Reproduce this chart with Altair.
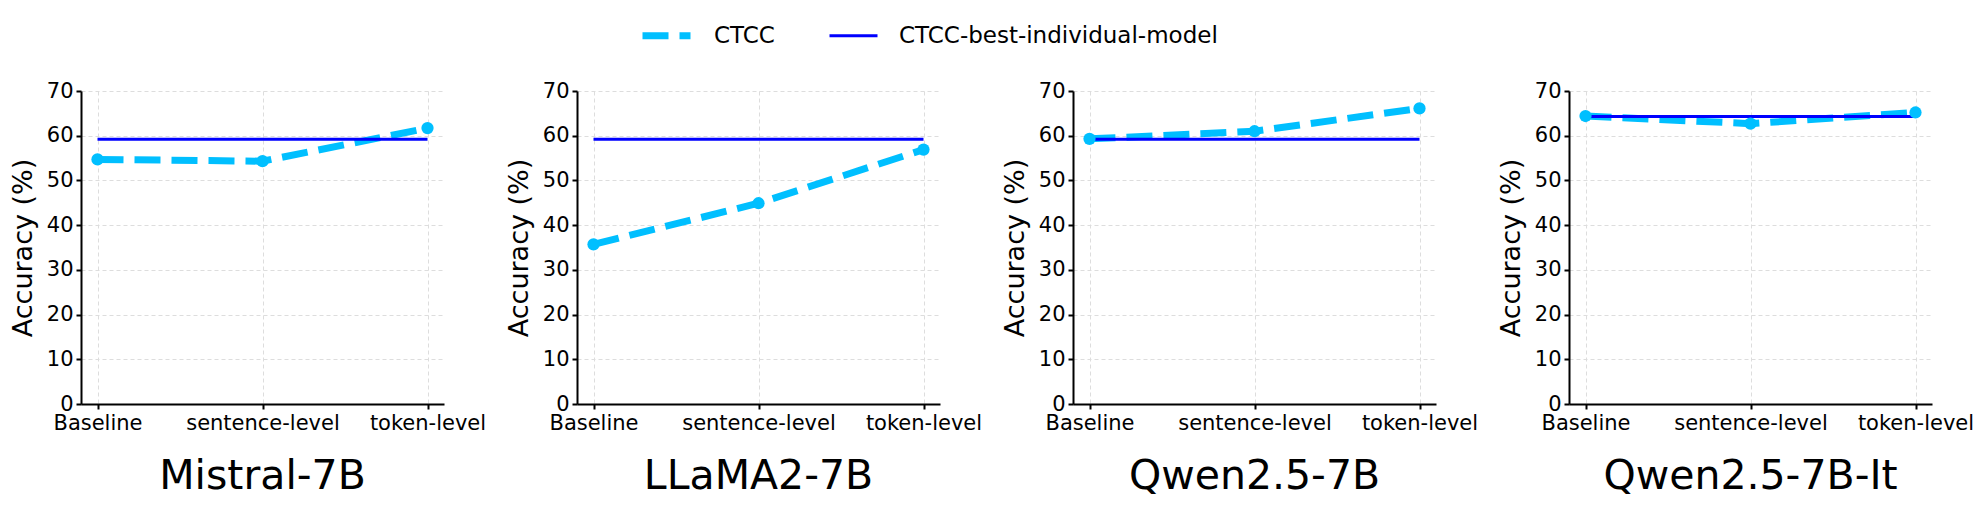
import altair as alt
import pandas as pd

categories = ["Baseline", "sentence-level", "token-level"]
models = ["Mistral-7B", "LLaMA2-7B", "Qwen2.5-7B", "Qwen2.5-7B-It"]

ctcc_mistral = [54.7, 54.3, 61.7]
ctcc_llama = [35.7, 44.9, 56.9]
ctcc_qwen = [59.3, 61.0, 66.1]
ctcc_qwen_it = [64.4, 62.7, 65.2]
best_individual = [59.2, 59.2, 59.2, 64.3]

series_names = ["CTCC", "CTCC-best-individual-model"]
series_colors = ["#00BFFF", "#0000FF"]

ctcc_all = [ctcc_mistral, ctcc_llama, ctcc_qwen, ctcc_qwen_it]
FONT = "DejaVu Sans"

color_enc = alt.Color(
    "series:N",
    scale=alt.Scale(domain=series_names, range=series_colors),
    legend=alt.Legend(
        title=None, orient="none", direction="horizontal",
        legendX=558, legendY=-83,
        symbolType="stroke", symbolSize=2304,
        labelFontSize=23, labelFont=FONT, labelColor="black", labelLimit=0,
        labelOffset=20, columnPadding=48,
    ),
)
dash_enc = alt.StrokeDash(
    "series:N",
    scale=alt.Scale(domain=series_names, range=[[26, 11], [1, 0]]),
    legend=None,
)
width_enc = alt.StrokeWidth(
    "series:N",
    scale=alt.Scale(domain=series_names, range=[7, 3]),
    legend=None,
)


def panel(i):
    df = pd.DataFrame({
        "category": categories,
        "value": ctcc_all[i],
        "series": ["CTCC"] * 3,
    })
    dfb = pd.DataFrame({
        "category": categories,
        "value": [best_individual[i]] * 3,
        "series": ["CTCC-best-individual-model"] * 3,
    })
    x = alt.X(
        "category:N", sort=categories,
        scale=alt.Scale(type="point", padding=0.1),
        axis=alt.Axis(title=None, labelAngle=0, grid=True),
    )
    y = alt.Y(
        "value:Q",
        scale=alt.Scale(domain=[0, 70], nice=False, zero=True),
        axis=alt.Axis(title="Accuracy (%)", values=list(range(0, 71, 10)), grid=True),
    )
    best = alt.Chart(dfb).mark_line().encode(
        x=x, y=y, color=color_enc, strokeDash=dash_enc, strokeWidth=width_enc
    )
    line = alt.Chart(df).mark_line(strokeCap="butt").encode(
        x=x, y=y, color=color_enc, strokeDash=dash_enc, strokeWidth=width_enc
    )
    pts = alt.Chart(df).mark_point(filled=True, size=150, opacity=1, color="#00BFFF").encode(
        x=x, y=y
    )
    return alt.layer(line, best, pts).properties(
        width=363, height=313,
        title=alt.TitleParams(
            text=models[i], orient="bottom", anchor="middle", fontSize=41,
            font=FONT, fontWeight="normal", color="black", offset=24,
        ),
    )


chart = alt.hconcat(*[panel(i) for i in range(4)], spacing=133, bounds="flush").properties(
    padding={"left": 1, "right": 0, "top": 0, "bottom": 8}
).configure_view(stroke=None).configure_axis(
    labelFont=FONT, titleFont=FONT, labelFontSize=21, titleFontSize=27,
    titleFontWeight="normal", labelColor="black", titleColor="black",
    domainColor="black", domainWidth=2, tickColor="black", tickWidth=2, tickSize=5,
    labelPadding=3, titlePadding=9,
    gridColor="#dddddd", gridDash=[4, 3], gridWidth=1,
)

chart.save("out.html", embed_options={"renderer": "svg", "actions": False})
